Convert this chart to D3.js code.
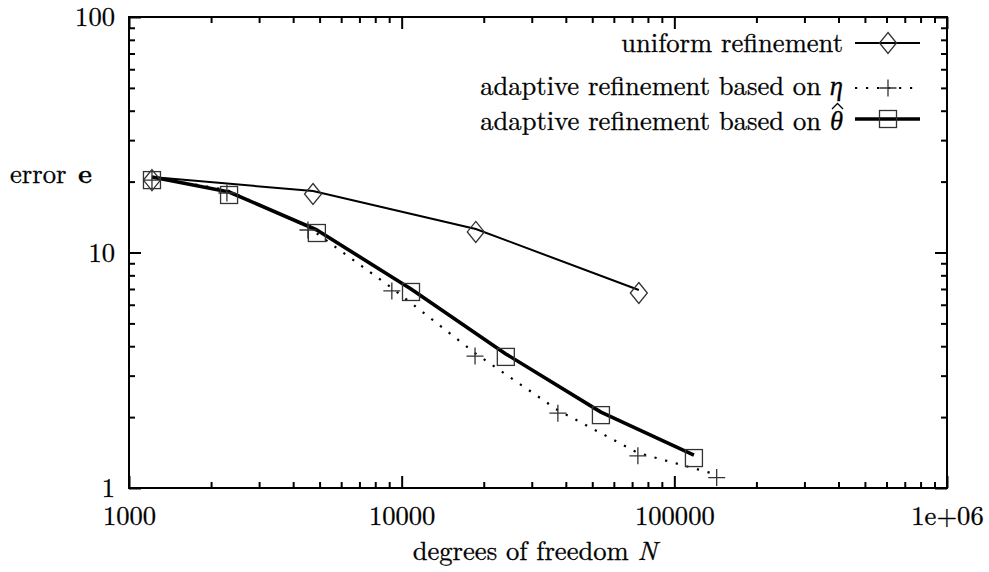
<!DOCTYPE html>
<html>
<head>
<meta charset="utf-8">
<script src="https://cdn.jsdelivr.net/npm/d3@7"></script>
<style>
  body { margin: 0; background: #fff; }
</style>
</head>
<body>
<script>
// values
let dofUniform = [1214, 4730, 18700, 74100]
let errUniform = [20.9, 18.25, 12.59, 6.93]

let dofEta = [1214, 2286, 4531, 9204, 18580, 37400, 73500, 143000]
let errEta = [20.9, 18.42, 12.83, 7.07, 3.74, 2.14, 1.41, 1.14]

let dofTheta = [1214, 2328, 4887, 10820, 24100, 53800, 118000]
let errTheta = [20.9, 18.07, 12.46, 7.00, 3.71, 2.10, 1.38]

let xTicks = [1000, 10000, 100000, 1000000]
let xTickLabels = ["1000", "10000", "100000", "1e+06"]
let yTicks = [1, 10, 100]
let yTickLabels = ["1", "10", "100"]

let width = 989,
    height = 572

let pLeft = 129, pRight = 947, pTop = 17, pBottom = 488
let font = "Latin Modern Roman"
let fontSize = 26.6
// gnuplot draws the point symbols a little below the line vertex
let markOffset = 3

let svg = d3.select("body").append("svg")
    .attr("width", width)
    .attr("height", height)
    .attr("font-family", font)

let x = d3.scaleLog().domain([1000, 1e6]).range([pLeft, pRight])
let y = d3.scaleLog().domain([1, 100]).range([pBottom, pTop])

// minor ticks 2..9 in each decade
function minors(lo, hi) {
    let out = []
    for (let d = lo; d < hi; d *= 10)
        for (let k = 2; k < 10; k++) out.push(d * k)
    return out
}
let xMinor = minors(1000, 1e6)
let yMinor = minors(1, 100)

function inkText(t) {
    return t.attr("font-family", font).attr("font-size", fontSize)
        .attr("fill", "#000").attr("stroke", "#000").attr("stroke-width", 0.3)
}

function styleAxis(g) {
    g.attr("font-family", font).attr("font-size", fontSize)
    g.select(".domain").remove()
    g.selectAll("line").attr("stroke", "#000").attr("stroke-width", 2)
    inkText(g.selectAll("text"))
}

// bottom axis (labels) + inward ticks
svg.append("g")
    .attr("transform", `translate(0,${pBottom})`)
    .call(d3.axisBottom(x).tickValues(xTicks).tickSize(-12)
          .tickFormat((d, i) => xTickLabels[i]).tickPadding(18))
    .call(styleAxis)
svg.append("g")
    .attr("transform", `translate(0,${pBottom})`)
    .call(d3.axisBottom(x).tickValues(xMinor).tickSize(-6).tickFormat(""))
    .call(styleAxis)
// top mirror
svg.append("g")
    .attr("transform", `translate(0,${pTop})`)
    .call(d3.axisTop(x).tickValues(xTicks).tickSize(-12).tickFormat(""))
    .call(styleAxis)
svg.append("g")
    .attr("transform", `translate(0,${pTop})`)
    .call(d3.axisTop(x).tickValues(xMinor).tickSize(-6).tickFormat(""))
    .call(styleAxis)
// left axis
svg.append("g")
    .attr("transform", `translate(${pLeft},0)`)
    .call(d3.axisLeft(y).tickValues(yTicks).tickSize(-12)
          .tickFormat((d, i) => yTickLabels[i]).tickPadding(14))
    .call(styleAxis)
svg.append("g")
    .attr("transform", `translate(${pLeft},0)`)
    .call(d3.axisLeft(y).tickValues(yMinor).tickSize(-6).tickFormat(""))
    .call(styleAxis)
// right mirror
svg.append("g")
    .attr("transform", `translate(${pRight},0)`)
    .call(d3.axisRight(y).tickValues(yTicks).tickSize(-12).tickFormat(""))
    .call(styleAxis)
svg.append("g")
    .attr("transform", `translate(${pRight},0)`)
    .call(d3.axisRight(y).tickValues(yMinor).tickSize(-6).tickFormat(""))
    .call(styleAxis)

// frame
svg.append("rect")
    .attr("x", pLeft).attr("y", pTop)
    .attr("width", pRight - pLeft).attr("height", pBottom - pTop)
    .attr("fill", "none").attr("stroke", "#000").attr("stroke-width", 2)

// axis titles
let xt = inkText(svg.append("text"))
    .attr("x", 535).attr("y", 560)
    .attr("text-anchor", "middle")
xt.append("tspan").text("degrees of freedom ")
xt.append("tspan").attr("font-style", "italic").text("N")

inkText(svg.append("text"))
    .attr("x", 10).attr("y", 183)
    .text("error")
inkText(svg.append("text"))
    .attr("x", 78).attr("y", 183)
    .attr("font-weight", "bold")
    .text("e")

let line = d3.line()
    .x(d => x(d[0]))
    .y(d => y(d[1]))

let zip = (a, b) => a.map((v, i) => [v, b[i]])

let uniform = zip(dofUniform, errUniform)
let eta = zip(dofEta, errEta)
let theta = zip(dofTheta, errTheta)

// series lines
svg.append("path").datum(uniform).attr("d", line)
    .attr("fill", "none").attr("stroke", "#000").attr("stroke-width", 2)
svg.append("path").datum(eta).attr("d", line)
    .attr("fill", "none").attr("stroke", "#000").attr("stroke-width", 2.2)
    .attr("stroke-dasharray", "2.2,8.8")
svg.append("path").datum(theta).attr("d", line)
    .attr("fill", "none").attr("stroke", "#000").attr("stroke-width", 3.6)
    .attr("stroke-linejoin", "round")

// marker drawers
function diamond(g, cx, cy) {
    g.append("path")
        .attr("d", `M${cx},${cy - 10.5}L${cx + 8.5},${cy}L${cx},${cy + 10.5}L${cx - 8.5},${cy}Z`)
        .attr("fill", "none").attr("stroke", "#333").attr("stroke-width", 1.3)
}
function plus(g, cx, cy) {
    g.append("path")
        .attr("d", `M${cx - 8.5},${cy}H${cx + 8.5}M${cx},${cy - 8.5}V${cy + 8.5}`)
        .attr("fill", "none").attr("stroke", "#333").attr("stroke-width", 1.3)
}
function square(g, cx, cy) {
    g.append("rect")
        .attr("x", cx - 8.5).attr("y", cy - 8.5).attr("width", 17).attr("height", 17)
        .attr("fill", "none").attr("stroke", "#333").attr("stroke-width", 1.3)
}

let marks = svg.append("g")
uniform.forEach(d => diamond(marks, x(d[0]), y(d[1]) + markOffset))
eta.forEach(d => plus(marks, x(d[0]), y(d[1]) + markOffset))
theta.forEach(d => square(marks, x(d[0]), y(d[1]) + markOffset))

// legend
let legend = [
    { text: "uniform refinement", sym: "", ly: 43, ty: 52, w: 2, dash: null, mark: diamond },
    { text: "adaptive refinement based on ", sym: "η", ly: 88, ty: 95, w: 2.2, dash: "2.2,8.8", mark: plus },
    { text: "adaptive refinement based on ", sym: "θ", ly: 119, ty: 130, w: 3.6, dash: null, mark: square }
]
let lg = svg.append("g")
legend.forEach(item => {
    let t = inkText(lg.append("text"))
        .attr("x", 843).attr("y", item.ty)
        .attr("text-anchor", "end")
    t.append("tspan").text(item.text)
    if (item.sym) t.append("tspan").attr("font-style", "italic").text(item.sym)
    if (item.sym === "θ") {
        // hat accent over theta
        lg.append("path")
            .attr("d", `M832,${item.ty - 21}L837.5,${item.ty - 26.5}L843,${item.ty - 21}`)
            .attr("fill", "none").attr("stroke", "#000").attr("stroke-width", 1.3)
    }
    lg.append("line")
        .attr("x1", 855).attr("x2", 920)
        .attr("y1", item.ly).attr("y2", item.ly)
        .attr("stroke", "#000").attr("stroke-width", item.w)
        .attr("stroke-dasharray", item.dash)
    item.mark(lg, 888, item.ly)
})
</script>
</body>
</html>
